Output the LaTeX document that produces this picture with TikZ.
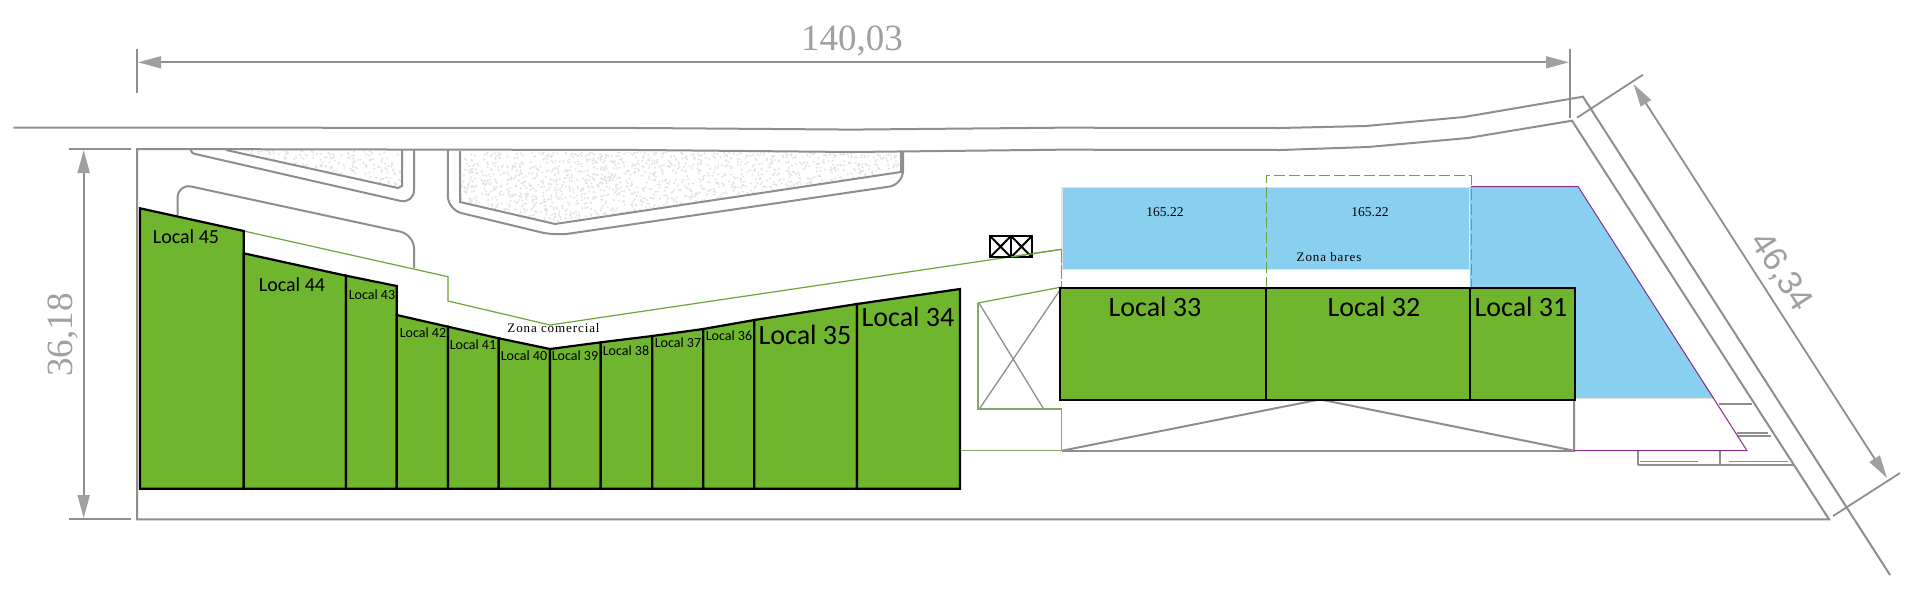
\documentclass[tikz,border=0pt]{standalone}
\usepackage{fontspec}
\setmainfont{Liberation Serif}
\newfontfamily\localfont{Carlito}
\newfontfamily\sidefont{Liberation Sans}
\usetikzlibrary{arrows.meta}

\definecolor{localgreen}{HTML}{6FB52E}
\definecolor{linegreen}{HTML}{6BA63A}
\definecolor{voidgreen}{HTML}{86A86A}
\definecolor{zoneblue}{HTML}{89CFF0}
\definecolor{edgegray}{HTML}{8E8E8E}
\definecolor{dimgray}{HTML}{A0A0A0}
\definecolor{dotgray}{HTML}{E2E2E2}
\definecolor{zoneedge}{HTML}{E4E4E4}
\definecolor{limitpurple}{HTML}{8B2C8B}

\tikzset{
  site/.style={draw=edgegray, line width=2pt},
  thinsite/.style={draw=edgegray, line width=1.3pt},
  dimline/.style={draw=edgegray, line width=1.8pt},
  dimarrow/.style={draw=edgegray, line width=1.8pt,
    {Triangle[length=23pt,width=12pt,color=dimgray]}-{Triangle[length=23pt,width=12pt,color=dimgray]}},
  dimtext/.style={text=dimgray, font=\fontsize{37}{37}\selectfont, inner sep=0pt},
  greenline/.style={draw=linegreen, line width=1.2pt},
  localbox/.style={draw=black, line width=2.2pt, fill=localgreen},
  localbig/.style={font=\localfont\fontsize{28}{28}\selectfont, inner sep=0pt},
  localmid/.style={font=\localfont\fontsize{20}{20}\selectfont, inner sep=0pt},
  localsmall/.style={font=\localfont\fontsize{14}{14}\selectfont, inner sep=0pt},
  zonetext/.style={font=\addfontfeatures{LetterSpace=7}\fontsize{13}{13}\selectfont, inner sep=0pt},
  areatext/.style={font=\fontsize{13.5}{13.5}\selectfont, inner sep=0pt},
}

\begin{document}
\begin{tikzpicture}[x=1pt,y=-1pt]

    % Page frame, same size as the plan
    \path[use as bounding box, fill=white] (0,0) rectangle (1920,600);

    % Stippled planters
    \pgfmathsetseed{7}
    \begin{scope}
        \clip (226,149) -- (398,188) -- (402,186) -- (402,149) -- cycle;
        \foreach \i in {1,...,340}
            \fill[dotgray] ({226+176*rnd},{149+39*rnd}) circle (1.1);
    \end{scope}
    \begin{scope}
        \clip (460,152) -- (460,202) -- (555,224) -- (640,211) -- (901,172) -- (901,152) -- cycle;
        \foreach \i in {1,...,2000}
            \fill[dotgray] ({460+441*rnd},{152+72*rnd}) circle (1.1);
    \end{scope}

    % Road and site outline
    \draw[site] (13.5,127.5) -- (640,128) -- (852,129.6) -- (1060,127.7) -- (1280,128)
        -- (1366,126) -- (1464,117) -- (1583,96.7) -- (1890,575);
    \draw[site] (137,519.3) -- (137,149) -- (640,150) -- (852,152) -- (1060,149.7) -- (1280,150)
        -- (1368,147) -- (1468,138) -- (1572,120.7) -- (1829,519.3) -- cycle;

    % Planter and curb edges
    \draw[site, rounded corners=3pt] (191,150) -- (191,153) -- (300,178);
    \draw[site, rounded corners=14pt] (300,178) -- (414,204) -- (414,150);
    \draw[site] (226,150) -- (398,188) -- (402,186) -- (402,150);
    \draw[site, rounded corners=14pt] (177.6,215) -- (177.6,183.6) -- (414,234.6) -- (414,268);
    \draw[site, rounded corners=14pt] (447.8,150) -- (447.8,209.8) -- (555,235.7) -- (903,184.6) -- (903,152);
    \draw[site] (460,151) -- (460,202) -- (555,224) -- (901,172) -- (901,152);

    % Blue bar zone with its light edge
    \fill[zoneblue, draw=zoneedge, line width=1.5pt] (1062,187.5) -- (1470,187.5) -- (1470,269.5) -- (1062,269.5) -- cycle;
    \fill[zoneblue] (1470,187) -- (1578,187) -- (1714,398) -- (1470,398) -- cycle;
    \draw[zoneedge, line width=1.5pt] (1575,398.5) -- (1714,398.5);

    % Gray lines below the right block and the void
    \draw[site] (1062,450.7) -- (1574,450.7);
    \draw[site] (1062,450.7) -- (1317,400);
    \draw[site] (1323,400) -- (1574,450.7) -- (1574,400);
    \draw[thinsite] (979,303) -- (1043,408);
    \draw[thinsite] (980,408) -- (1060,290);

    % Stairs at the corner
    \draw[site] (1719,404) -- (1752,404);
    \draw[thinsite] (1737,433) -- (1768,433);
    \draw[site] (1737,435.5) -- (1771,435.5);
    \draw[thinsite] (1638,450.7) -- (1638,465);
    \draw[thinsite] (1720,450.7) -- (1720,465);
    \draw[site] (1638,465) -- (1793,465);
    \draw[thinsite] (1640,461.7) -- (1698,461.7);
    \draw[thinsite] (1729,461.7) -- (1788,461.7);

    % Purple limit
    \draw[limitpurple, line width=1pt] (1471,186.5) -- (1578,186.5) -- (1747,450.7) -- (1574,450.7);

    % Green limit lines
    \draw[greenline] (243.7,231) -- (448,276.7) -- (448,301) -- (550,325) -- (1061.6,249.3);
    \draw[greenline, dash pattern=on 14pt off 2pt] (1061.6,249.3) -- (1061.6,287);
    \draw[greenline] (1061.6,287) -- (978,303);
    \draw[voidgreen, line width=1.8pt] (978,303) -- (978,408.7) -- (1061.6,408.7);
    \draw[voidgreen, line width=1.5pt] (1061.6,408.7) -- (1061.6,450.7) -- (960,450.7);
    \draw[greenline, dash pattern=on 11pt off 4pt] (1266.5,288) -- (1266.5,175.7) -- (1471.4,175.7) -- (1471.4,288);

    % Lift box
    \draw[black, line width=2pt] (990,236) rectangle (1032,257.3);
    \draw[black, line width=2pt] (1011,236) -- (1011,257.3);
    \draw[black, line width=2pt] (990,236) -- (1011,257.3);
    \draw[black, line width=2pt] (990,257.3) -- (1011,236);
    \draw[black, line width=2pt] (1011,236) -- (1032,257.3);
    \draw[black, line width=2pt] (1011,257.3) -- (1032,236);
    \draw[greenline] (1011,257) -- (1061.6,249.3);

    % Left row of locals, west to east
    \draw[localbox] (140,208.3) -- (243.7,231) -- (243.7,488.7) -- (140,488.7) -- cycle;
    \draw[localbox] (243.7,253.3) -- (346,275.7) -- (346,488.7) -- (243.7,488.7) -- cycle;
    \draw[localbox] (346,275.7) -- (396.7,286) -- (396.7,488.7) -- (346,488.7) -- cycle;
    \draw[localbox] (396.7,315) -- (448,326.7) -- (448,488.7) -- (396.7,488.7) -- cycle;
    \draw[localbox] (448,326.7) -- (498.8,338.3) -- (498.8,488.7) -- (448,488.7) -- cycle;
    \draw[localbox] (498.8,338.3) -- (550,349) -- (550,488.7) -- (498.8,488.7) -- cycle;
    \draw[localbox] (550,349) -- (600.8,342.3) -- (600.8,488.7) -- (550,488.7) -- cycle;
    \draw[localbox] (600.8,342.3) -- (652.2,336) -- (652.2,488.7) -- (600.8,488.7) -- cycle;
    \draw[localbox] (652.2,336) -- (703.3,329) -- (703.3,488.7) -- (652.2,488.7) -- cycle;
    \draw[localbox] (703.3,329) -- (754.3,320) -- (754.3,488.7) -- (703.3,488.7) -- cycle;
    \draw[localbox] (754.3,320) -- (857,304) -- (857,488.7) -- (754.3,488.7) -- cycle;
    \draw[localbox] (857,304) -- (960,289) -- (960,488.7) -- (857,488.7) -- cycle;

    % Right row of locals
    \draw[localbox] (1059.6,288.3) rectangle (1266,400);
    \draw[localbox] (1266,288.3) rectangle (1470,400);
    \draw[localbox] (1470,288.3) rectangle (1574.7,400);

    % Labels of the locals
    \node[localmid] (L45) at (186,237) {Local 45};
    \node[localmid] (L44) at (292,285) {Local 44};
    \node[localsmall] (L43) at (372,295) {Local 43};
    \node[localsmall] (L42) at (423,333) {Local 42};
    \node[localsmall] (L41) at (473,345) {Local 41};
    \node[localsmall] (L40) at (524,356) {Local 40};
    \node[localsmall] (L39) at (575,356) {Local 39};
    \node[localsmall] (L38) at (626,350.7) {Local 38};
    \node[localsmall] (L37) at (678,342.7) {Local 37};
    \node[localsmall] (L36) at (729,335.7) {Local 36};
    \node[localbig] (L35) at (805,335) {Local 35};
    \node[localbig] (L34) at (908,316.7) {Local 34};
    \node[localbig] (L33) at (1155,306.7) {Local 33};
    \node[localbig] (L32) at (1374,306.7) {Local 32};
    \node[localbig] (L31) at (1521,306.7) {Local 31};

    % Zone and area labels
    \node[zonetext] (comercial) at (553.5,328) {Zona comercial};
    \node[zonetext] (bares) at (1329,256.7) {Zona bares};
    \node[areatext] (areaA) at (1165,212.3) {165.22};
    \node[areatext] (areaB) at (1370,211.7) {165.22};

    % Dimension along the top
    \draw[dimline] (137,49) -- (137,92.7);
    \draw[dimline] (1570,49) -- (1570,118);
    \draw[dimarrow] (138,62.3) -- (1569,62.3);
    \node[dimtext] (dimTop) at (852,41) {140,03};

    % Dimension on the left
    \draw[dimline] (69.4,149) -- (131.4,149);
    \draw[dimline] (69.4,519.3) -- (131.4,519.3);
    \draw[dimarrow] (83.7,150) -- (83.7,518);
    \node[dimtext, rotate=90] (dimLeft) at (63,335) {36,18};

    % Dimension on the diagonal side
    \draw[dimline] (1577,117.7) -- (1643,74.7);
    \draw[dimline] (1833,516) -- (1900,473);
    \draw[dimarrow] (1633.5,84) -- (1887,478);
    \node[dimtext, font=\sidefont\fontsize{34}{34}\selectfont, rotate=-57] (dimRight) at (1781,272) {46,34};

\end{tikzpicture}
\end{document}
